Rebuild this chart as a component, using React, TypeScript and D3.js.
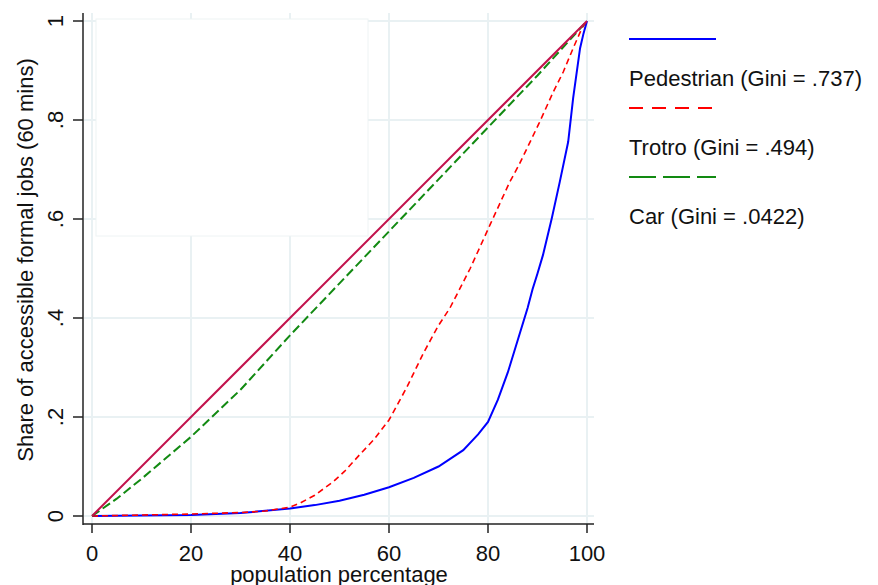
import React from 'react';
import { scaleLinear, line } from 'd3';

const W = 878;
const H = 585;

const X_TICKS = [0, 20, 40, 60, 80, 100];
const Y_TICKS = [0, 0.2, 0.4, 0.6, 0.8, 1];
const Y_TICK_LABELS = ['0', '.2', '.4', '.6', '.8', '1'];

// population percentage
const PED_X = [0, 10, 20, 30, 40, 45, 50, 55, 60, 65, 70, 75, 78, 80, 82, 84, 86, 88, 89, 90, 91.1, 92.9, 94.5, 96.2, 97.2, 98.6, 99.3, 100];
const PED_Y = [0, 0.001, 0.002, 0.006, 0.015, 0.022, 0.031, 0.043, 0.058, 0.077, 0.1, 0.133, 0.165, 0.19, 0.235, 0.29, 0.355, 0.42, 0.458, 0.49, 0.527, 0.602, 0.675, 0.756, 0.844, 0.945, 0.975, 1];

const TRO_X = [0, 10, 20, 30, 35, 40, 42, 45, 48.7, 51, 54, 57, 60, 63.6, 67, 70, 72.3, 76.4, 80.4, 84.4, 86.3, 90.3, 93.2, 95.2, 97.2, 99, 100];
const TRO_Y = [0, 0.002, 0.004, 0.007, 0.01, 0.018, 0.026, 0.042, 0.069, 0.09, 0.123, 0.155, 0.194, 0.26, 0.33, 0.385, 0.42, 0.5, 0.588, 0.675, 0.71, 0.793, 0.857, 0.897, 0.945, 0.986, 1];

const CAR_X = [0, 5, 10, 20, 30, 40, 50, 60, 70, 80, 90, 100];
const CAR_Y = [0, 0.035, 0.075, 0.16, 0.255, 0.365, 0.47, 0.575, 0.68, 0.785, 0.89, 1];

const EQ_X = [0, 100];
const EQ_Y = [0, 1];

const LEGEND = ['Pedestrian (Gini = .737)', 'Trotro (Gini = .494)', 'Car (Gini = .0422)'];

const FONT = '"Liberation Sans", Arial, sans-serif';
const GRID = '#e9f1f3';

export default function App() {
  const x = scaleLinear().domain([0, 100]).range([92, 587]);
  const y = scaleLinear().domain([0, 1]).range([516, 21]);

  const path = (xs: number[], ys: number[]) =>
    line<number>()
      .x((d) => x(d))
      .y((_, i) => y(ys[i]))(xs) || '';

  const series = [
    { xs: PED_X, ys: PED_Y, color: '#0000ff', width: 2, dash: undefined, lw: undefined },
    { xs: TRO_X, ys: TRO_Y, color: '#ff0000', width: 1.6, dash: '6 4', lw: '14 9' },
    { xs: CAR_X, ys: CAR_Y, color: '#128a12', width: 2, dash: '9 4', lw: '27 7' },
  ];

  return (
    <svg width={W} height={H} style={{ position: 'absolute', left: 0, top: 0, background: '#fff' }}>
      <rect width={W} height={H} fill="#fff" />
      {/* grid */}
      {X_TICKS.map((t) => (
        <line key={'gx' + t} x1={x(t)} x2={x(t)} y1={13} y2={524} stroke={GRID} strokeWidth={2} />
      ))}
      {Y_TICKS.map((t) => (
        <line key={'gy' + t} x1={84} x2={594} y1={y(t)} y2={y(t)} stroke={GRID} strokeWidth={2} />
      ))}
      {/* empty box */}
      <rect x={96} y={19} width={272} height={217} fill="#fff" stroke="#eef3f4" strokeWidth={1} />

      {/* curves */}
      {series.map((s, i) => (
        <path key={i} d={path(s.xs, s.ys)} fill="none" stroke={s.color} strokeWidth={s.width} strokeDasharray={s.dash} />
      ))}
      <path d={path(EQ_X, EQ_Y)} fill="none" stroke="#c2124c" strokeWidth={2} />

      {/* axes */}
      <line x1={83} x2={83} y1={13} y2={525} stroke="#222" strokeWidth={1.5} />
      <line x1={83} x2={594} y1={524} y2={524} stroke="#222" strokeWidth={1.5} />
      {Y_TICKS.map((t, i) => (
        <g key={'yt' + t}>
          <line x1={73} x2={83} y1={y(t)} y2={y(t)} stroke="#222" strokeWidth={1.5} />
          <text
            transform={`translate(63,${y(t)}) rotate(-90)`}
            textAnchor="middle"
            fontFamily={FONT}
            fontSize={22}
            fill="#111"
          >
            {Y_TICK_LABELS[i]}
          </text>
        </g>
      ))}
      {X_TICKS.map((t) => (
        <g key={'xt' + t}>
          <line x1={x(t)} x2={x(t)} y1={524} y2={533} stroke="#222" strokeWidth={1.5} />
          <text x={x(t)} y={561} textAnchor="middle" fontFamily={FONT} fontSize={22} fill="#111">
            {t}
          </text>
        </g>
      ))}
      <text x={339} y={582} textAnchor="middle" fontFamily={FONT} fontSize={22} fill="#111">
        population percentage
      </text>
      <text
        transform="translate(33,260) rotate(-90)"
        textAnchor="middle"
        fontFamily={FONT}
        fontSize={22}
        fill="#111"
      >
        Share of accessible formal jobs (60 mins)
      </text>

      {/* legend */}
      {series.map((s, i) => (
        <g key={'lg' + i}>
          <line
            x1={629}
            x2={716}
            y1={39 + i * 69}
            y2={39 + i * 69}
            stroke={s.color}
            strokeWidth={2}
            strokeDasharray={s.lw}
          />
          <text x={629} y={86 + i * 69} fontFamily={FONT} fontSize={22} fill="#111">
            {LEGEND[i]}
          </text>
        </g>
      ))}
    </svg>
  );
}
